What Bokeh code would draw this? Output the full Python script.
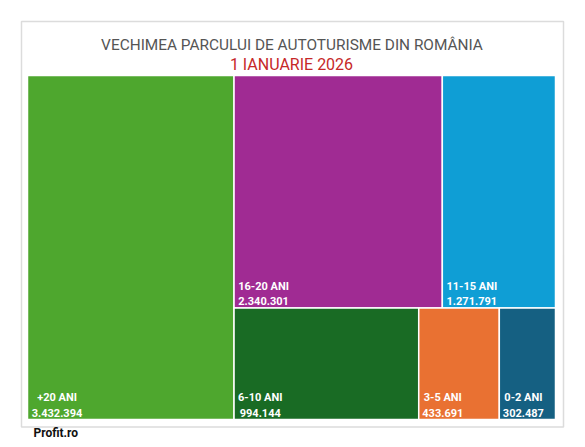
from bokeh.plotting import figure
from bokeh.models import Range1d, ColumnDataSource
from bokeh.core.properties import value
from bokeh.embed import file_html
from bokeh.resources import INLINE

# ---- data ----
categories = ["+20 ANI", "16-20 ANI", "11-15 ANI", "6-10 ANI", "3-5 ANI", "0-2 ANI"]
vehicles = [3432394, 2340301, 1271791, 994144, 433691, 302487]
value_labels = ["3.432.394", "2.340.301", "1.271.791", "994.144", "433.691", "302.487"]
colors = ["#4EA72E", "#A02B93", "#0F9ED5", "#196B24", "#E97132", "#156082"]
title_text = "VECHIMEA PARCULUI DE AUTOTURISME DIN ROMÂNIA"
subtitle_text = "1 IANUARIE 2026"
source_text = "Profit.ro"

# ---- squarified treemap layout ----
def worst(row, side):
    s = sum(row)
    return max(max(side * side * r / (s * s), s * s / (side * side * r)) for r in row)

def layout_row(row, x, y, w, h, out):
    s = sum(row)
    if w >= h:  # column at left
        cw = s / h
        yy = y
        for r in row:
            rh = r / cw
            out.append((x, x + cw, yy, yy + rh))
            yy += rh
        return x + cw, y, w - cw, h
    else:  # row at top
        rh = s / w
        xx = x
        for r in row:
            rw = r / rh
            out.append((xx, xx + rw, y, y + rh))
            xx += rw
        return x, y + rh, w, h - rh

def squarify(vals, x, y, w, h):
    total = sum(vals)
    areas = [v * w * h / total for v in vals]
    out = []
    row = []
    i = 0
    while i < len(areas):
        side = min(w, h)
        a = areas[i]
        if not row or worst(row + [a], side) <= worst(row, side):
            row.append(a)
            i += 1
        else:
            x, y, w, h = layout_row(row, x, y, w, h, out)
            row = []
    if row:
        layout_row(row, x, y, w, h, out)
    return out

X0, Y0, X1, Y1 = 27, 75, 555, 419
rects = squarify(vehicles, X0, Y0, X1 - X0, Y1 - Y0)

src = ColumnDataSource(dict(
    left=[r[0] for r in rects], right=[r[1] for r in rects],
    top=[r[2] for r in rects], bottom=[r[3] for r in rects],
    color=colors,
))

W, H = 577, 439
p = figure(width=W, height=H, output_backend="svg", toolbar_location=None,
           x_range=Range1d(0, W), y_range=Range1d(H, 0),
           min_border=0, x_axis_location=None, y_axis_location=None,
           background_fill_color="white", border_fill_color="white")
p.outline_line_color = None
p.grid.visible = False

# outer frame
p.quad(left=[21], right=[563], top=[21], bottom=[426.5], fill_color="white",
       line_color="#dcdcdc", line_width=1.5)

p.quad(left="left", right="right", top="top", bottom="bottom", source=src,
       fill_color="color", line_color="white", line_width=1.5)

# labels (centered block at bottom-left of each cell)
lab_font = value("Roboto")
cx = []
for r, lab, num in zip(rects, categories, value_labels):
    wmax = max(len(lab) * 5.3, len(num) * 5.45)
    cx.append(r[0] + 5 + wmax / 2)
lsrc = ColumnDataSource(dict(
    x=cx, y1=[r[3] - 22 for r in rects], y2=[r[3] - 7 for r in rects],
    cat=categories, num=value_labels,
))
p.text(x="x", y="y1", text="cat", source=lsrc, text_color="white",
       text_font=lab_font, text_font_style="bold", text_font_size="11px",
       text_align="center", text_baseline="alphabetic")
p.text(x="x", y="y2", text="num", source=lsrc, text_color="white",
       text_font=lab_font, text_font_style="bold", text_font_size="11px",
       text_align="center", text_baseline="alphabetic")

# titles
p.text(x=[291.5], y=[44], text=[title_text], text_color="#555555",
       text_font=value("Roboto"), text_font_size="15.4px",
       text_align="center", text_baseline="alphabetic")
p.text(x=[291], y=[64], text=[subtitle_text], text_color="#C62828",
       text_font=value("Roboto"), text_font_size="16px",
       text_align="center", text_baseline="alphabetic")
p.text(x=[33], y=[439], text=[source_text], text_color="#111111",
       text_font=value("Roboto"), text_font_style="bold", text_font_size="12px",
       text_align="left", text_baseline="bottom")

open("out.html", "w").write(file_html(p, INLINE))
